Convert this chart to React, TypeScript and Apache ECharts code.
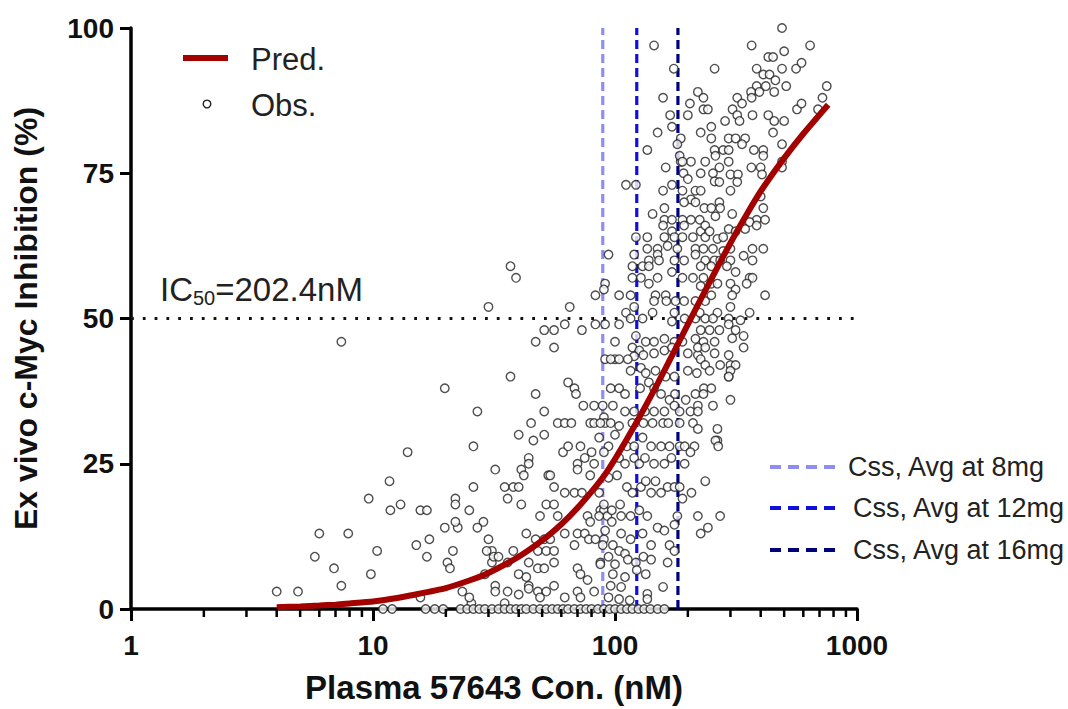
import React, { useEffect, useRef } from "react";
import * as echarts from "echarts";

// Predicted curve: concentration (nM) and inhibition (%)
const predConc = [4, 5, 6, 7, 8, 10, 12, 15, 20, 25, 30, 40, 50, 60, 70, 80, 90, 100, 120, 150, 175, 200, 250, 300, 350, 400, 500, 600, 760];
const predInh = [0.3, 0.45, 0.6, 0.75, 0.95, 1.3, 1.75, 2.5, 3.6, 4.9, 6.2, 9.0, 11.8, 14.6, 17.4, 20.2, 22.9, 25.8, 31.4, 38.8, 44.2, 49.0, 56.8, 63.0, 67.9, 71.9, 77.6, 81.8, 86.8];

// Observed points [conc nM, inhibition %]
const obsLow: number[][] = [
  [30, 52], [7.4, 46], [19.8, 38], [27, 34], [13.9, 27], [26, 28], [11.7, 22], [9.6, 19], [11.8, 17], [13, 18], [15.7, 17], [16.7, 17],
  [21.9, 19], [21.9, 18], [25, 17], [26, 21], [19.8, 14], [22.4, 14], [21.9, 15], [28.6, 15], [27, 14], [6.0, 13], [7.9, 13], [5.75, 9],
  [6.9, 7], [7.4, 4], [9.8, 6], [10.4, 10], [15.1, 11], [17.1, 12], [16.7, 9], [21.4, 10], [20.3, 8], [20.8, 7], [30, 12], [31, 10],
  [31, 8], [29, 6], [4.0, 3], [4.9, 3], [15.7, 2], [23.4, 3], [32, 4], [32, 3], [25.5, 1], [37, 59], [39, 57],
];
const obsMid: number[][] = [
  [65, 52], [91, 56], [83, 54], [51, 48], [56, 48], [62, 49], [73, 48], [83, 49], [91, 49], [47, 46], [56, 45], [37, 40], [91, 43],
  [100, 43], [64, 39], [68, 38], [69, 37], [47, 37], [51, 34], [45, 32], [40, 30], [46, 29], [51, 30], [58, 32], [62, 32], [66, 32],
  [74, 35], [82, 35], [79, 32], [82, 32], [90, 33], [91, 32], [61, 27], [64, 28], [72, 28], [44, 26], [44, 25], [32, 24], [41, 24],
  [42, 23], [53, 23], [54, 23], [70, 25], [70, 24], [75, 26], [80, 27], [82, 25], [79, 23], [35, 21], [38, 21], [40, 21], [56, 21],
  [62, 20], [68, 20], [73, 20], [36, 19], [41, 18], [52, 18], [56, 18], [49, 16], [58, 16], [77, 16], [79, 15], [87, 17], [90, 17],
  [93, 16], [43, 13], [47, 12], [51, 12], [54, 12], [62, 13], [70, 13], [75, 13], [78, 12], [68, 11], [83, 12], [90, 12], [29.5, 10],
  [31.5, 9], [33, 9], [38, 10], [36, 8], [48, 10], [52, 10], [56, 10], [44, 8], [48, 7], [51, 7], [56, 8], [70, 7], [72, 6], [77, 5],
  [87, 8], [40, 6], [43, 5.5], [44, 4], [44, 3.5], [36, 3], [48, 3], [52, 3], [56, 4], [70, 3], [82, 3], [96, 4], [35, 1],
];
const obsCenterLow: number[][] = [
  [96, 38], [104, 38], [110, 37], [127, 38], [138, 39], [145, 38], [155, 37], [168, 36], [177, 37], [196, 36], [215, 37], [233, 38],
  [89, 35], [98, 35], [110, 34], [120, 34], [133, 34], [145, 34], [160, 34], [176, 35], [185, 34], [205, 34], [265, 31], [265, 29],
  [87, 32], [96, 32], [104, 31.5], [118, 32], [131, 32], [143, 32], [158, 32], [166, 32], [185, 32], [210, 32],
  [86, 29.5], [94, 28], [100, 30], [112, 28], [120, 28], [130, 29.5], [141, 28], [155, 28], [168, 28], [185, 28], [194, 28], [213, 28],
  [90, 27], [104, 26], [110, 25], [120, 26], [126, 25], [133, 26], [145, 25], [160, 25], [171, 26], [194, 25], [205, 27],
  [94, 22.6], [102, 23], [112, 21], [118, 20], [128, 21], [134, 22], [147, 22], [165, 21], [176, 21], [185, 21], [207, 20], [236, 22],
  [86, 20], [141, 20], [155, 20], [190, 19],
  [90, 18], [97, 17], [105, 18], [86, 16], [97, 15], [106, 16], [116, 16], [126, 17], [136, 16], [150, 14], [160, 13.5], [176, 14.5],
  [181, 16], [220, 16], [242, 14], [226, 13], [91, 13.5], [106, 13], [116, 12], [130, 13],
  [89, 11], [98, 11], [104, 10], [110, 9.5], [94, 9], [113, 8.5], [141, 11], [168, 11], [176, 10], [131, 9], [141, 8.5], [87, 7.7],
  [100, 7.7], [122, 8], [98, 6], [110, 5.5], [123, 6.7], [134, 6], [106, 3.8], [136, 2.6], [136, 1.7], [158, 3.8], [165, 8], [104, 1.7],
  [295, 40], [250, 38], [232, 37], [254, 35], [300, 36], [220, 35], [220, 34], [220, 31], [260, 29], [267, 28], [272, 16],
];
const obsCenterHigh: number[][] = [
  [162, 76], [187, 77], [206, 77], [192, 75], [200, 74], [226, 75], [111, 73], [122, 73], [158, 72], [172, 73], [190, 72], [215, 72],
  [226, 72], [206, 70.5], [193, 70], [215, 70], [234, 69], [143, 68], [160, 69], [160, 67], [172, 67], [190, 67], [206, 67], [224, 67],
  [158, 66], [172, 65], [193, 66], [226, 65], [122, 64], [136, 64], [160, 64], [176, 64], [190, 64], [210, 64], [236, 64], [94, 61],
  [120, 61], [136, 62], [150, 62], [165, 62.5], [181, 62], [215, 62], [138, 60], [150, 61], [176, 60], [193, 60], [215, 61], [236, 60],
  [118, 59], [130, 59], [138, 59], [152, 60], [118, 57], [128, 57], [138, 56], [150, 57], [172, 58], [190, 57], [210, 57], [232, 57],
  [90, 55], [104, 54], [116, 54], [120, 52], [147, 54], [162, 54], [145, 53], [163, 53], [178, 53], [193, 53], [215, 53], [236, 53],
  [104, 49], [111, 51], [116, 50], [130, 50], [143, 51], [176, 51], [172, 49.5], [194, 50], [215, 50], [236, 50], [100, 46], [122, 47],
  [134, 46], [145, 46], [160, 46.5], [176, 46], [190, 46], [215, 46.5], [232, 46], [118, 45], [126, 44.5], [120, 43.5], [131, 43.7],
  [145, 44], [160, 44.5], [172, 45], [200, 44], [220, 43.7], [96, 43], [104, 43], [113, 43], [116, 41], [128, 41.5], [134, 40.6],
  [147, 41], [162, 40], [176, 40], [200, 41], [218, 40.6],
];
const obsHigh: number[][] = [
  [236, 77], [270, 76], [295, 77], [254, 75], [258, 73.6], [270, 73.5], [300, 74.8], [322, 74.8], [320, 73.5], [366, 76], [400, 76],
  [405, 74.8], [300, 72], [400, 71], [270, 70], [250, 69], [272, 69], [260, 67.6], [305, 68], [410, 69], [385, 67], [417, 67], [360, 66.6],
  [385, 66], [236, 66], [246, 65], [265, 63.7], [280, 64], [295, 65.4], [315, 65], [345, 65.4], [232, 62], [254, 62], [280, 61.6],
  [300, 62], [370, 62], [410, 62], [340, 60.8], [370, 60], [258, 60], [272, 60], [300, 60], [226, 59], [250, 59], [290, 59], [315, 58],
  [360, 57], [370, 57], [350, 56], [226, 55.6], [250, 56], [265, 56], [300, 56], [315, 55], [305, 54], [417, 54], [250, 54], [300, 52],
  [224, 51], [265, 51], [295, 50], [330, 49.7], [360, 51], [254, 50], [226, 48], [246, 48], [270, 48], [295, 49], [315, 48], [340, 47],
  [258, 46], [305, 46.6], [340, 45], [220, 45], [236, 45], [258, 44], [226, 43], [236, 42], [272, 42], [295, 43.7], [300, 42], [315, 42],
  [300, 41], [295, 40], [246, 41],
];
const obsTop: number[][] = [
  [490, 100], [145, 97], [367, 97], [640, 97], [500, 96], [430, 95], [450, 95], [175, 93], [258, 93], [385, 93], [410, 92], [435, 92],
  [490, 93], [560, 93], [590, 94], [460, 91], [510, 90], [750, 90], [385, 90], [395, 89], [420, 90], [455, 89], [365, 89], [367, 88],
  [158, 88], [220, 89], [232, 88], [320, 88], [335, 87], [204, 87], [232, 86], [242, 86], [200, 85], [169, 85], [306, 86], [320, 85],
  [327, 84], [370, 85], [430, 85], [455, 84], [500, 84], [565, 86], [590, 87], [690, 86], [720, 88], [285, 84], [172, 83], [150, 82],
  [226, 82], [250, 83], [450, 82], [250, 81], [295, 81], [315, 81], [345, 81], [136, 79], [187, 81], [181, 80], [185, 78], [258, 79],
  [280, 79], [295, 79], [260, 78], [335, 80], [375, 79], [410, 79], [410, 78], [490, 80], [490, 77], [490, 76], [190, 77],
];
const obsZero: number[][] = [
  [11, 0], [12, 0], [16.5, 0], [18, 0], [19.5, 0], [23, 0], [24.5, 0], [26, 0], [27.5, 0], [29, 0], [31, 0], [33, 0], [35, 0], [37, 0],
  [39, 0], [41, 0], [43, 0], [46, 0], [49, 0], [52, 0], [55, 0], [58, 0], [61, 0], [64, 0], [68, 0], [72, 0], [76, 0], [80, 0], [85, 0],
  [90, 0], [95, 0], [100, 0], [106, 0], [112, 0], [118, 0], [125, 0], [132, 0], [140, 0], [150, 0], [160, 0],
  [25, 2], [40, 2.5], [49, 2], [62, 2], [72, 2], [94, 2], [115, 1.5],
];

// Reference lines
const ic50Level = 50;
const cssConc = [89, 123, 182];
const cssLabels = ["Css, Avg at 8mg", "Css, Avg at 12mg", "Css, Avg at 16mg"];
const cssColors = ["#8E8EF2", "#1010DC", "#00007C"];
const xMinorTicks = [2, 3, 4, 5, 6, 7, 8, 9, 20, 30, 40, 50, 60, 70, 80, 90, 200, 300, 400, 500, 600, 700, 800, 900];

const FONT = "Arial, 'Liberation Sans', Helvetica, sans-serif";

export default function App() {
  const ref = useRef<HTMLDivElement>(null);
  useEffect(() => {
    if (!ref.current) return;
    const chart = echarts.init(ref.current, null, { renderer: "svg" });
    const observed = [...obsLow, ...obsMid, ...obsCenterLow, ...obsCenterHigh, ...obsHigh, ...obsTop, ...obsZero];
    const pred = predConc.map((c, i) => [c, predInh[i]]);
    const legY = [467, 508, 550];
    const option: any = {
      animation: false,
      backgroundColor: "#fff",
      textStyle: { fontFamily: FONT },
      grid: { left: 131, top: 28, width: 726, height: 584, containLabel: false },
      xAxis: {
        type: "log",
        logBase: 10,
        min: 1,
        max: 1000,
        axisLine: { show: true, lineStyle: { color: "#000", width: 3.5 } },
        axisTick: { show: true, length: 12, lineStyle: { color: "#000", width: 3 } },
        axisLabel: {
          fontSize: 28, fontWeight: "bold", color: "#111", margin: 22, fontFamily: FONT,
          formatter: (v: number) => String(Math.round(v)),
        },
        splitLine: { show: false },
        name: "Plasma 57643 Con. (nM)",
        nameLocation: "middle",
        nameGap: 62,
        nameTextStyle: { fontSize: 33, fontWeight: "bold", color: "#111", fontFamily: FONT },
      },
      yAxis: {
        type: "value",
        min: 0,
        max: 100,
        interval: 25,
        axisLine: { show: true, lineStyle: { color: "#000", width: 3.5 } },
        axisTick: { show: true, length: 11, lineStyle: { color: "#000", width: 3 } },
        axisLabel: { fontSize: 28, fontWeight: "bold", color: "#111", margin: 17, fontFamily: FONT },
        splitLine: { show: false },
        name: "Ex vivo c-Myc Inhibition (%)",
        nameLocation: "middle",
        nameGap: 89,
        nameRotate: 90,
        nameTextStyle: { fontSize: 32, fontWeight: "bold", color: "#111", fontFamily: FONT },
      },
      series: [
        {
          type: "custom",
          silent: true,
          clip: false,
          z: 5,
          data: xMinorTicks.map((v) => [v, 0]),
          renderItem: (params: any, api: any) => {
            const p = api.coord([api.value(0), 0]);
            return {
              type: "line",
              shape: { x1: p[0], y1: p[1], x2: p[0], y2: p[1] + 8 },
              style: { stroke: "#000", lineWidth: 2.5 },
            };
          },
        },
        {
          type: "line",
          silent: true,
          symbol: "none",
          z: 1,
          data: [[1, ic50Level], [1000, ic50Level]],
          lineStyle: { color: "#111", width: 2.8, type: [2.8, 9] },
        },
        ...cssConc.map((c, i) => ({
          type: "line",
          name: cssLabels[i],
          silent: true,
          symbol: "none",
          z: 2,
          data: [[c, 0], [c, 100]],
          lineStyle: { color: cssColors[i], width: 3.2, type: [9, 5] },
        })),
        {
          type: "scatter",
          name: "Obs.",
          z: 3,
          symbol: "circle",
          symbolSize: 8.5,
          data: observed,
          itemStyle: { color: "#fff", borderColor: "#222", borderWidth: 1.4 },
        },
        {
          type: "line",
          name: "Pred.",
          z: 4,
          symbol: "none",
          smooth: 0.2,
          data: pred,
          lineStyle: { color: "#A30000", width: 6 },
        },
      ],
      graphic: [
        { type: "line", shape: { x1: 183, y1: 58, x2: 228, y2: 58 }, style: { stroke: "#A30000", lineWidth: 6 } },
        { type: "text", x: 251, y: 59, style: { text: "Pred.", font: `31px ${FONT}`, fill: "#222", verticalAlign: "middle" } },
        { type: "circle", shape: { cx: 207, cy: 104, r: 3.8 }, style: { fill: "#fff", stroke: "#222", lineWidth: 1.4 } },
        { type: "text", x: 251, y: 105, style: { text: "Obs.", font: `31px ${FONT}`, fill: "#222", verticalAlign: "middle" } },
        {
          type: "text",
          x: 160,
          y: 289,
          style: {
            text: "{a|IC}{s|50}{a|=202.4nM}",
            verticalAlign: "middle",
            rich: {
              a: { fontSize: 33, fontFamily: FONT, fill: "#222", color: "#222" },
              s: { fontSize: 20, fontFamily: FONT, fill: "#222", color: "#222", padding: [17, 0, 0, 0] },
            },
          },
        },
        ...cssLabels.flatMap((lab, i) => [
          {
            type: "line",
            shape: { x1: 770, y1: legY[i], x2: 835, y2: legY[i] },
            style: { stroke: cssColors[i], lineWidth: 4, lineDash: [11, 7] },
          },
          {
            type: "text",
            x: i === 0 ? 848 : 853,
            y: legY[i],
            style: { text: lab, font: `27px ${FONT}`, fill: "#222", verticalAlign: "middle" },
          },
        ]),
      ],
    };
    chart.setOption(option);
    return () => chart.dispose();
  }, []);
  return (
    <div
      ref={ref}
      style={{ position: "fixed", left: 0, top: 0, width: 1068, height: 709, background: "#fff" }}
    />
  );
}
